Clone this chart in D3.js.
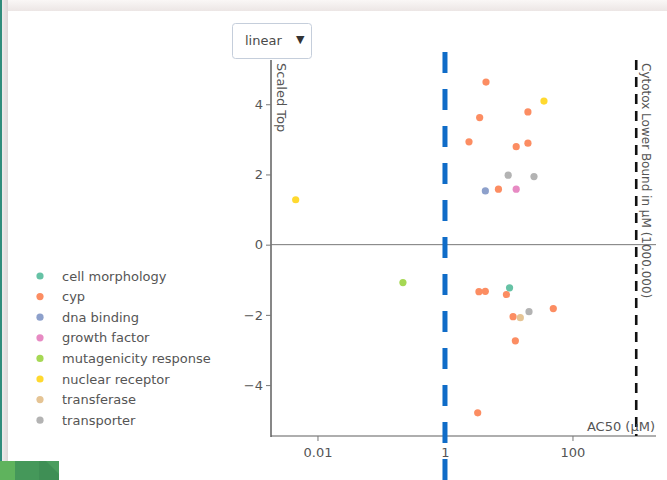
<!DOCTYPE html>
<html>
<head>
<meta charset="utf-8">
<script src="https://cdn.jsdelivr.net/npm/d3@7"></script>
<style>
  html, body { margin: 0; padding: 0; background: #ffffff; }
  svg { display: block; font-family: "DejaVu Sans", Verdana, sans-serif; }
</style>
</head>
<body>
<svg id="chart" width="667" height="480"></svg>
<script>
// Assay categories, in legend order
const categories = ["cell morphology", "cyp", "dna binding", "growth factor",
  "mutagenicity response", "nuclear receptor", "transferase", "transporter"];

// One entry per active assay: AC50 (µM), scaled top, and category
const ac50 = [4.4, 20, 3.5, 2.38, 20, 13.1, 6.9, 3.41, 4.29, 9.2, 50, 11.7, 12.7, 3.26,
  35.7, 0.00455,
  9.8, 24.9, 20.8,
  4.3,
  13.1,
  0.219,
  10.3,
  15.2];
const scaledTop = [4.63, 3.78, 3.62, 2.93, 2.89, 2.79, 1.58, -1.34, -1.33, -1.42, -1.82, -2.05, -2.74, -4.79,
  4.09, 1.28,
  1.98, 1.94, -1.91,
  1.53,
  1.58,
  -1.08,
  -1.23,
  -2.08];
const assayType = ["cyp", "cyp", "cyp", "cyp", "cyp", "cyp", "cyp", "cyp", "cyp", "cyp", "cyp", "cyp", "cyp", "cyp",
  "nuclear receptor", "nuclear receptor",
  "transporter", "transporter", "transporter",
  "dna binding",
  "growth factor",
  "mutagenicity response",
  "cell morphology",
  "transferase"];

// Reference lines (µM)
const ac50Cutoff = 1;
const cytotoxLowerBound = 1000;

// Axis ticks
const xTicks = [0.01, 1, 100];
const yTicks = [-4, -2, 0, 2, 4];

const svg = d3.select("#chart");

// ---- page frame around the chart card ----
const defs = svg.append("defs");
const topGrad = defs.append("linearGradient").attr("id", "topBand")
  .attr("x1", 0).attr("y1", 0).attr("x2", 0).attr("y2", 1);
topGrad.append("stop").attr("offset", "0%").attr("stop-color", "#faf7f6");
topGrad.append("stop").attr("offset", "100%").attr("stop-color", "#ece6e5");
const sideGrad = defs.append("linearGradient").attr("id", "sideBand")
  .attr("x1", 0).attr("y1", 0).attr("x2", 1).attr("y2", 0);
sideGrad.append("stop").attr("offset", "0%").attr("stop-color", "#f3f0f0");
sideGrad.append("stop").attr("offset", "100%").attr("stop-color", "#dcd7d7");

svg.append("rect").attr("x", 0).attr("y", 0).attr("width", 667).attr("height", 11).attr("fill", "url(#topBand)");
svg.append("rect").attr("x", 0).attr("y", 0).attr("width", 8).attr("height", 461).attr("fill", "url(#sideBand)");
svg.append("rect").attr("x", 0).attr("y", 0).attr("width", 2).attr("height", 461).attr("fill", "#2f8c7b");
svg.append("rect").attr("x", 8).attr("y", 11).attr("width", 659).attr("height", 469).attr("fill", "#ffffff");
// footer badge
svg.append("rect").attr("x", 0).attr("y", 461).attr("width", 15).attr("height", 19).attr("fill", "#5fb35d");
svg.append("rect").attr("x", 15).attr("y", 461).attr("width", 24).attr("height", 19).attr("fill", "#45985a");
svg.append("rect").attr("x", 39).attr("y", 461).attr("width", 20).attr("height", 19).attr("fill", "#3f8f55");
svg.append("path").attr("d", "M46,461 L59,461 L59,474 Z").attr("fill", "#4a9d5e");

// ---- scales ----
const x = d3.scaleLog().domain([0.001866, 2042]).range([271, 656]);
const y = d3.scaleLinear().domain([-5.45, 5.26]).range([436, 60]);
const color = d3.scaleOrdinal().domain(categories).range(d3.schemeSet2);

const tickColor = "#555555";

// ---- axes ----
const xAxis = svg.append("g").attr("transform", "translate(0,436)")
  .call(d3.axisBottom(x).tickValues(xTicks).tickFormat(d3.format("~g")).tickSizeOuter(0).tickSize(5).tickPadding(7));
const yAxis = svg.append("g").attr("transform", "translate(271,0)")
  .call(d3.axisLeft(y).tickValues(yTicks).tickSizeOuter(0).tickSize(5).tickPadding(3));

[xAxis, yAxis].forEach(g => {
  g.select(".domain").attr("stroke", "#5f5f5f").attr("stroke-width", 1.5);
  g.selectAll(".tick line").attr("stroke", "#777777");
  g.selectAll(".tick text").attr("fill", tickColor)
    .style("font-family", "'DejaVu Sans', Verdana, sans-serif").style("font-size", "13px");
});
xAxis.select(".domain").attr("d", "M271,0H656").attr("stroke-width", 1.2);
yAxis.select(".domain").attr("d", "M0,437V60");

// zero line
svg.append("line")
  .attr("x1", 271).attr("x2", 656)
  .attr("y1", y(0)).attr("y2", y(0))
  .attr("stroke", "#777777").attr("stroke-width", 1);

// ---- reference lines ----
svg.append("line")
  .attr("x1", x(ac50Cutoff)).attr("x2", x(ac50Cutoff))
  .attr("y1", 52).attr("y2", 480)
  .attr("stroke", "#0f6cc8").attr("stroke-width", 5)
  .attr("stroke-dasharray", "21,16");

svg.append("line")
  .attr("x1", x(cytotoxLowerBound)).attr("x2", x(cytotoxLowerBound))
  .attr("y1", 60).attr("y2", 436)
  .attr("stroke", "#111111").attr("stroke-width", 2.6)
  .attr("stroke-dasharray", "10,7");

// ---- points ----
svg.append("g").selectAll("circle")
  .data(d3.range(ac50.length))
  .join("circle")
  .attr("cx", i => x(ac50[i]))
  .attr("cy", i => y(scaledTop[i]))
  .attr("r", 3.6)
  .attr("fill", i => color(assayType[i]));

// ---- axis titles ----
svg.append("text")
  .attr("transform", "translate(277,63) rotate(90)")
  .attr("fill", tickColor).style("font-size", "13px")
  .text("Scaled Top");

svg.append("text")
  .attr("transform", "translate(641.5,63) rotate(90)")
  .attr("fill", tickColor).style("font-size", "12px")
  .text("Cytotox Lower Bound in µM (1000.000)");

svg.append("text")
  .attr("x", 655).attr("y", 431)
  .attr("text-anchor", "end")
  .attr("fill", tickColor).style("font-size", "13px")
  .text("AC50 (µM)");

// ---- scale selector ----
const menu = svg.append("g");
menu.append("rect")
  .attr("x", 232.5).attr("y", 23.5).attr("width", 79).attr("height", 35).attr("rx", 3)
  .attr("fill", "#ffffff").attr("stroke", "#c5cedb").attr("stroke-width", 1);
menu.append("text").attr("x", 245).attr("y", 45)
  .attr("fill", "#4a4a4a").style("font-size", "13px").text("linear");
menu.append("text").attr("x", 296).attr("y", 43)
  .attr("fill", "#333333").style("font-size", "11px").text("▼");

// ---- legend ----
const legend = svg.append("g").selectAll("g")
  .data(categories)
  .join("g")
  .attr("transform", (d, i) => `translate(40,${276 + i * 20.6})`);
legend.append("circle").attr("r", 3.6).attr("fill", d => color(d));
legend.append("text")
  .attr("x", 22).attr("dy", "0.35em")
  .attr("fill", tickColor).style("font-size", "13px")
  .text(d => d);
</script>
</body>
</html>
